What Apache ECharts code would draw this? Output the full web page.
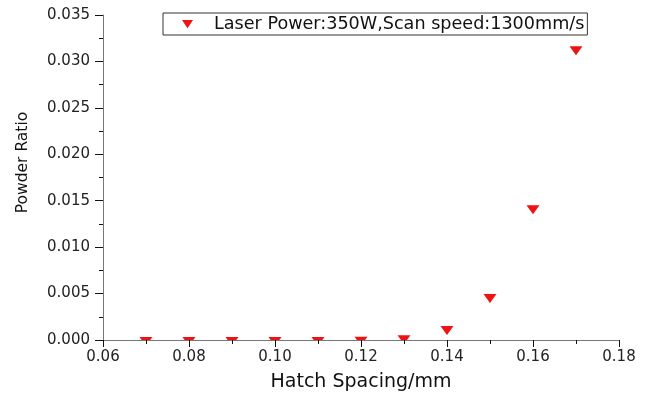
<!DOCTYPE html>
<html>
<head>
<meta charset="utf-8">
<script src="https://cdn.jsdelivr.net/npm/echarts@6/dist/echarts.min.js"></script>
<style>
  html, body { margin: 0; padding: 0; background: #fff; }
  #chart { width: 650px; height: 397px; }
</style>
</head>
<body>
<div id="chart"></div>
<script>
  const hatchSpacing = [0.07, 0.08, 0.09, 0.10, 0.11, 0.12, 0.13, 0.14, 0.15, 0.16, 0.17]
  const powderRatio = [0, 0, 0, 0, 0, 0.00003, 0.0002, 0.00118, 0.00463, 0.01418, 0.0313]
  const seriesName = "Laser Power:350W,Scan speed:1300mm/s"

  const font = "DejaVu Sans, sans-serif"
  const red = "#f01212"
  const points = hatchSpacing.map((x, i) => [x, powderRatio[i]])

  // down triangle, point sits at the centroid (Origin style)
  function drawTriangle(params, api) {
    const p = api.coord([api.value(0), api.value(1)])
    const w = 13, h = 9
    return {
      type: "polygon",
      shape: {
        points: [
          [p[0] - w / 2, p[1] - h / 3],
          [p[0] + w / 2, p[1] - h / 3],
          [p[0], p[1] + (h * 2) / 3],
        ],
      },
      style: { fill: api.visual("color") },
    }
  }

  const options = {
    animation: false,
    grid: {
      left: 103,
      right: 31,
      top: 15,
      bottom: 55,
    },
    legend: {
      data: [{ name: seriesName, icon: "path://M0,0L12,0L6,9Z" }],
      left: 163,
      top: 13,
      padding: [2, 3, 2, 19],
      itemWidth: 11,
      itemHeight: 9,
      borderColor: "#333",
      borderWidth: 1,
      borderRadius: 0,
      textStyle: { fontFamily: font, fontSize: 17.6, lineHeight: 18, color: "#111", padding: [0, 0, 0, 16] },
    },
    xAxis: {
      type: "value",
      min: 0.06,
      max: 0.18,
      interval: 0.02,
      name: "Hatch Spacing/mm",
      nameLocation: "middle",
      nameGap: 33,
      nameTextStyle: { fontFamily: font, fontSize: 19, color: "#111" },
      axisLine: { onZero: false, lineStyle: { color: "#777", width: 1 } },
      axisTick: { inside: false, length: 7, lineStyle: { color: "#111" } },
      minorTick: { show: true, splitNumber: 2, length: 4, lineStyle: { color: "#111" } },
      splitLine: { show: false },
      axisLabel: {
        fontFamily: font,
        fontSize: 15,
        color: "#222",
        margin: 10,
        formatter: (v) => v.toFixed(2),
      },
    },
    yAxis: {
      type: "value",
      min: 0,
      max: 0.035,
      interval: 0.005,
      name: "Powder Ratio",
      nameLocation: "middle",
      nameGap: 72,
      nameTextStyle: { fontFamily: font, fontSize: 15.5, color: "#111", padding: [0, 0, 0, 30] },
      axisLine: { show: true, lineStyle: { color: "#777", width: 1 } },
      axisTick: { show: true, inside: false, length: 8, lineStyle: { color: "#111" } },
      minorTick: { show: true, splitNumber: 2, length: 4, lineStyle: { color: "#111" } },
      splitLine: { show: false },
      axisLabel: {
        fontFamily: font,
        fontSize: 15,
        color: "#222",
        margin: 13,
        formatter: (v) => v.toFixed(3),
      },
    },
    series: [
      {
        name: seriesName,
        type: "custom",
        clip: true,
        z: 1,
        data: points,
        encode: { x: 0, y: 1 },
        renderItem: drawTriangle,
        itemStyle: { color: red },
      },
    ],
  }

  const myChart = echarts.init(document.getElementById("chart"))
  myChart.setOption(options)
</script>
</body>
</html>
